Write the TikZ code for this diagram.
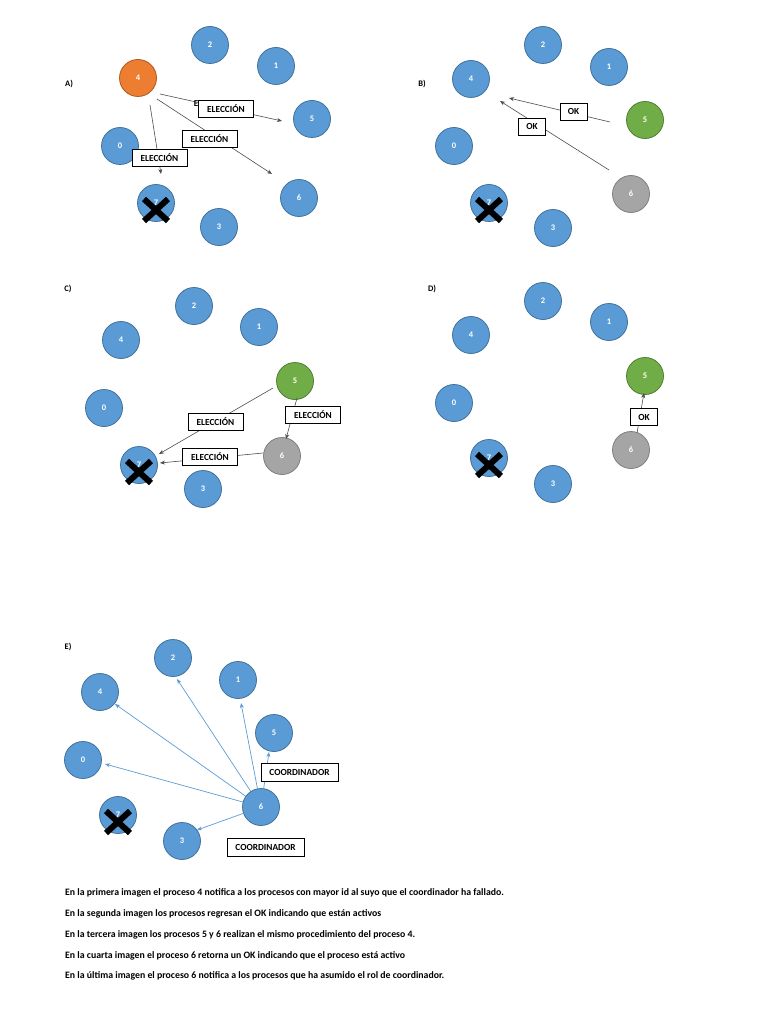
\documentclass[tikz,border=0pt]{standalone}
\usepackage{fontspec}
\setmainfont{Carlito}
\usetikzlibrary{arrows.meta}
\definecolor{pblue}{HTML}{5B9BD5}
\definecolor{pblueb}{HTML}{41719C}
\definecolor{porange}{HTML}{ED7D31}
\definecolor{porangeb}{HTML}{AE5A21}
\definecolor{pgreen}{HTML}{70AD47}
\definecolor{pgreenb}{HTML}{507E32}
\definecolor{pgray}{HTML}{A5A5A5}
\definecolor{pgrayb}{HTML}{7F7F7F}
\tikzset{
  proc/.style={circle, minimum size=37pt, inner sep=0pt, fill=pblue, draw=pblueb, line width=0.8pt, text=white, font=\bfseries\fontsize{8.5}{9}\selectfont},
  orangeproc/.style={proc, fill=porange, draw=porangeb},
  greenproc/.style={proc, fill=pgreen, draw=pgreenb},
  grayproc/.style={proc, fill=pgray, draw=pgrayb},
  msg/.style={draw=black, line width=0.8pt, fill=white, inner sep=0pt, minimum height=17pt, font=\bfseries\fontsize{9.3}{10}\selectfont},
  elbox/.style={msg, minimum width=55pt},
  okbox/.style={msg, minimum width=27pt},
  cobox/.style={msg, minimum width=77pt, minimum height=18pt},
  arr/.style={draw=black!70, line width=0.6pt, -{Stealth[length=5pt,width=4pt]}},
  barr/.style={draw=pblue, line width=0.7pt, -{Stealth[length=5pt,width=4pt]}},
  xmark/.style={line width=6pt, black},
  plabel/.style={font=\bfseries\fontsize{8.5}{9}\selectfont},
  para/.style={anchor=west, inner sep=0pt, font=\bfseries\fontsize{9.8}{11}\selectfont}
}
\begin{document}
\begin{tikzpicture}[x=1pt,y=-1pt]
\useasboundingbox (0,0) rectangle (768,1024);
% ---------- Panel A
\node[plabel] (la) at (69,84) {A)};
\node[proc] (a2) at (210,45) {2};
\node[proc] (a1) at (276,66) {1};
\node[orangeproc] (a4) at (138,78) {4};
\node[proc] (a5) at (312,119) {5};
\node[proc] (a0) at (120,146) {0};
\node[proc] (a6) at (299,198) {6};
\node[proc] (a7) at (156,203) {7};
\node[proc] (a3) at (219,227) {3};
\draw[xmark] ([shift={(-12,-4)}]a7.center) -- ([shift={(12,18)}]a7.center);
\draw[xmark] ([shift={(12,-4)}]a7.center) -- ([shift={(-12,18)}]a7.center);
\coordinate (as1) at (150,105); \coordinate (ae1) at (161,174);
\coordinate (as2) at (157,99);  \coordinate (ae2) at (272,174);
\coordinate (as3) at (160,94);  \coordinate (ae3) at (282,121);
\draw[arr] (as1) -- (ae1);
\draw[arr] (as2) -- (ae2);
\draw[arr] (as3) -- (ae3);
\node[font=\bfseries\fontsize{9}{10}\selectfont] (astray) at (196,104) {E};
\node[elbox] (abox1) at (159.5,157.5) {ELECCIÓN};
\node[elbox] (abox2) at (209.5,138.5) {ELECCIÓN};
\node[elbox] (abox3) at (226,108.5) {ELECCIÓN};
% ---------- Panel B
\node[plabel] (lb) at (422,84) {B)};
\node[proc] (b2) at (543,45) {2};
\node[proc] (b1) at (609,67) {1};
\node[proc] (b4) at (471,79) {4};
\node[greenproc] (b5) at (645,120) {5};
\node[proc] (b0) at (454,146) {0};
\node[grayproc] (b6) at (631,194) {6};
\node[proc] (b7) at (489,203) {7};
\node[proc] (b3) at (553,228) {3};
\draw[xmark] ([shift={(-12,-4)}]b7.center) -- ([shift={(12,18)}]b7.center);
\draw[xmark] ([shift={(12,-4)}]b7.center) -- ([shift={(-12,18)}]b7.center);
\coordinate (bs1) at (610,122); \coordinate (be1) at (509,98);
\coordinate (bs2) at (609,170); \coordinate (be2) at (500,101);
\draw[arr] (bs1) -- (be1);
\draw[arr] (bs2) -- (be2);
\node[okbox] (bbox1) at (573.5,111.5) {OK};
\node[okbox] (bbox2) at (532,126.5) {OK};
% ---------- Panel C
\node[plabel] (lc) at (68,289) {C)};
\node[proc] (c2) at (194,306) {2};
\node[proc] (c1) at (259,327) {1};
\node[proc] (c4) at (121,340) {4};
\node[greenproc] (c5) at (295,381) {5};
\node[proc] (c0) at (104,408) {0};
\node[grayproc] (c6) at (282,456) {6};
\node[proc] (c7) at (139,465) {7};
\node[proc] (c3) at (203,489) {3};
\draw[xmark] ([shift={(-12,-4)}]c7.center) -- ([shift={(12,18)}]c7.center);
\draw[xmark] ([shift={(12,-4)}]c7.center) -- ([shift={(-12,18)}]c7.center);
\coordinate (cs1) at (273,388); \coordinate (ce1) at (159,454);
\coordinate (cs2) at (297,398); \coordinate (ce2) at (286,439);
\coordinate (cs3) at (263,453); \coordinate (ce3) at (160,463);
\draw[arr] (cs1) -- (ce1);
\draw[arr] (cs2) -- (ce2);
\draw[arr] (cs3) -- (ce3);
\node[elbox] (cbox1) at (215.5,421.5) {ELECCIÓN};
\node[elbox] (cbox2) at (313,415) {ELECCIÓN};
\node[elbox] (cbox3) at (210,456.5) {ELECCIÓN};
% ---------- Panel D
\node[plabel] (ld) at (432,289) {D)};
\node[proc] (d2) at (543,301) {2};
\node[proc] (d1) at (609,322) {1};
\node[proc] (d4) at (471,335) {4};
\node[greenproc] (d5) at (645,376) {5};
\node[proc] (d0) at (454,403) {0};
\node[grayproc] (d6) at (631,450) {6};
\node[proc] (d7) at (489,458) {7};
\node[proc] (d3) at (553,484) {3};
\draw[xmark] ([shift={(-12,-4)}]d7.center) -- ([shift={(12,18)}]d7.center);
\draw[xmark] ([shift={(12,-4)}]d7.center) -- ([shift={(-12,18)}]d7.center);
\coordinate (ds1) at (637,433); \coordinate (de1) at (644,393);
\draw[arr] (ds1) -- (de1);
\node[okbox] (dbox1) at (644,417) {OK};
% ---------- Panel E
\node[plabel] (le) at (68,647) {E)};
\node[proc] (e2) at (173,658) {2};
\node[proc] (e1) at (238,680) {1};
\node[proc] (e4) at (100,692) {4};
\node[proc] (e5) at (274,733) {5};
\node[proc] (e0) at (83,760) {0};
\node[proc] (e6) at (261,807) {6};
\node[proc] (e7) at (118,815) {7};
\node[proc] (e3) at (182,841) {3};
\draw[xmark] ([shift={(-12,-4)}]e7.center) -- ([shift={(12,18)}]e7.center);
\draw[xmark] ([shift={(12,-4)}]e7.center) -- ([shift={(-12,18)}]e7.center);
\coordinate (ee2) at (177,679);
\coordinate (ee4) at (115,704);
\coordinate (ee1) at (241,703);
\coordinate (ee5) at (269,752);
\coordinate (ee0) at (105,764);
\coordinate (ee3) at (197,830);
\foreach \t in {ee2,ee4,ee1,ee5,ee0,ee3} \draw[barr] (e6) -- (\t);
\node[cobox] (ebox1) at (299.5,772) {COORDINADOR};
\node[cobox] (ebox2) at (265.5,847) {COORDINADOR};
% ---------- Text
\node[para] (t1) at (65,893) {En la primera imagen el proceso 4 notifica a los procesos con mayor id al suyo que el coordinador ha fallado.};
\node[para] (t2) at (65,914) {En la segunda imagen los procesos regresan el OK indicando que están activos};
\node[para] (t3) at (65,935) {En la tercera imagen los procesos 5 y 6 realizan el mismo procedimiento del proceso 4.};
\node[para] (t4) at (65,956) {En la cuarta imagen el proceso 6 retorna un OK indicando que el proceso está activo};
\node[para] (t5) at (65,976) {En la última imagen el proceso 6 notifica a los procesos que ha asumido el rol de coordinador.};
\end{tikzpicture}
\end{document}
